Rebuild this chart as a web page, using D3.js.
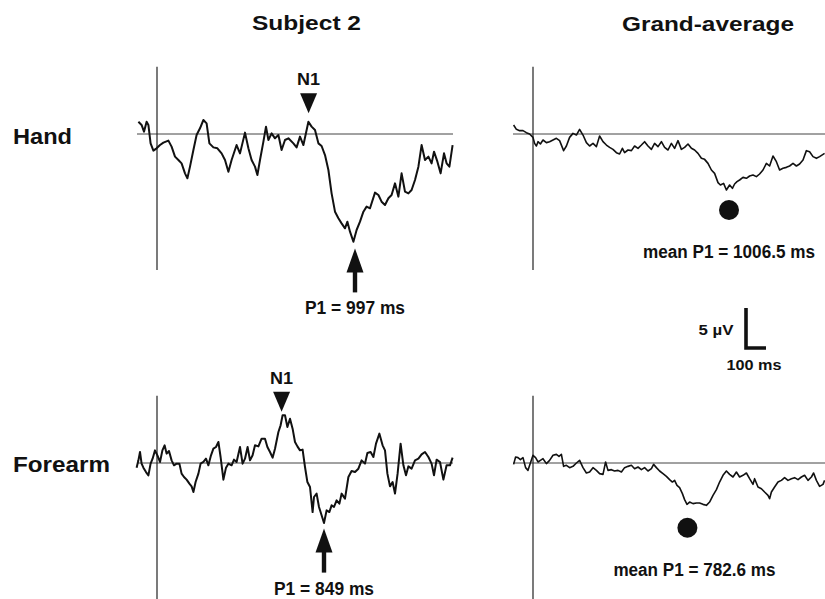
<!DOCTYPE html>
<html>
<head>
<meta charset="utf-8">
<script src="https://cdn.jsdelivr.net/npm/d3@7"></script>
<style>
  body { margin: 0; background: #fff; }
  svg text { font-family: "Liberation Sans", Arial, sans-serif; font-weight: bold; fill: #111; }
</style>
</head>
<body>
<div id="chart"></div>
<script>
// ERP traces, time in ms (0 = vertical line), amplitude in microvolts (negative up)
var handSubjT = [-93,-77,-65,-52,-43,-32,-18,-2,15,32,57,73,90,107,123,140,152,165,182,198,215,232,248,262,282,302,323,340,357,373,398,415,440,457,473,490,502,515,532,545,557,573,590,607,623,640,657,682,698,715,732,757,773,790,807,823,840,857,873,890,907,923,940,952,965,982,998,1015,1032,1048,1065,1090,1107,1123,1140,1157,1173,1190,1207,1223,1240,1257,1273,1290,1307,1323,1340,1357,1373,1385,1402,1418,1435,1448,1462,1478];
var handSubjV = [-1.54,-1.13,-0.29,-1.54,-1.13,1.17,2.08,1.79,1.38,1.08,0.83,1.58,2.83,3.25,3.67,4.92,5.54,4.08,2.0,0.13,-0.71,-1.75,-1.33,1.17,1.67,1.79,2.42,3.25,4.71,3.25,1.38,2.42,-0.17,1.79,3.25,4.08,5.13,3.25,0.96,-0.92,0.75,-0.08,0.54,0.13,2.0,0.75,0.54,1.17,1.67,0.33,1.38,-1.54,-0.92,-0.5,1.17,1.5,2.63,4.5,7.42,9.71,10.54,11.17,11.79,10.96,12.21,13.46,12.0,10.96,9.71,9.08,9.29,7.33,7.63,8.46,8.88,8.04,7.63,6.17,7.83,4.92,7.21,7.42,7.0,5.75,4.08,1.38,3.25,2.83,3.67,2.21,3.46,4.92,2.42,3.67,4.08,1.38];

var handAvgT = [-97,-83,-67,-50,-33,-17,0,8,17,25,37,50,67,83,100,117,133,153,167,183,200,217,233,250,267,283,300,317,333,350,367,383,400,417,433,447,458,475,492,508,525,542,558,575,592,608,625,642,658,675,692,708,725,742,758,775,792,808,825,842,858,875,892,908,925,937,953,967,983,997,1008,1020,1033,1050,1067,1083,1100,1117,1133,1150,1167,1183,1200,1217,1233,1250,1267,1283,1300,1317,1333,1350,1367,1383,1400,1417,1433,1458];
var handAvgV = [-1.13,-0.58,-0.42,-0.42,-0.17,0,0.42,1.17,1.5,0.96,1.25,0.75,1.08,0.96,0.75,0.54,0.83,2.08,1.5,0.42,-0.08,0.13,-0.58,0.13,1.08,1.5,1.17,1.58,0.25,0.96,1.38,1.67,1.92,2.33,2.5,1.79,2.33,2.0,2.08,1.5,1.79,1.38,0.96,1.5,1.92,1.17,1.58,0.96,1.67,2.0,1.17,1.79,0.83,1.92,1.67,1.25,1.79,2.0,2.42,3.04,3.17,3.67,4.5,4.92,6.08,6.38,6.17,7.0,6.38,6.79,6.25,5.96,5.75,5.42,5.54,5.25,5.13,5.33,5.0,4.5,3.67,4.0,2.75,3.46,4.5,4.29,4.17,4.0,3.67,4.0,3.75,3.25,2.08,2.21,2.83,3.04,2.83,2.42];

var armSubjT = [-102,-93,-85,-77,-68,-55,-43,-32,-22,-10,2,15,27,38,48,60,73,85,98,112,123,135,148,162,173,182,193,207,218,232,245,257,270,282,295,307,318,332,345,357,373,385,398,415,428,440,453,465,478,490,507,523,540,552,565,578,590,607,618,628,640,652,665,678,690,702,715,728,740,752,765,778,785,798,810,823,835,848,862,873,885,898,912,923,940,957,973,990,1007,1023,1040,1052,1068,1082,1095,1112,1128,1140,1152,1165,1178,1190,1203,1218,1232,1245,1257,1273,1290,1307,1323,1340,1357,1373,1385,1398,1415,1432,1448,1465,1478];
var armSubjV = [0.58,-0.33,-1.38,0.08,0.58,1.13,1.54,0.08,-0.54,-1.58,-0.96,-0.13,-1.58,-2.21,-1.17,-1.5,-0.33,0.29,0.08,0.08,1.33,1.75,2.08,2.58,2.92,3.63,2.38,1.33,0.08,-0.13,-0.54,0.29,-0.96,-1.79,-2.0,-2.63,-0.75,2.08,0.58,0.08,0.29,-0.42,-0.13,-2.0,0.08,-0.54,-2.0,-0.33,-0.96,-2.21,-2.08,-3.04,-3.04,-2.0,-1.38,-0.67,-1.79,-3.88,-4.71,-5.96,-5.96,-4.5,-5.54,-4.29,-2.63,-2.08,-1.58,-1.67,0.5,2.38,3.0,6.13,4.25,3.83,5.5,6.54,7.5,5.92,6.13,5.29,5.5,4.67,5.08,3.83,4.46,1.75,1.0,1.13,0.71,-0.33,0.08,-1.25,-1.38,-0.75,-2.42,-3.67,-2.21,-1.58,1.33,2.92,2.38,3.83,1.33,-2.42,0.29,1.54,0.42,0.71,-0.33,-0.54,-1.08,-1.38,-0.75,0.08,1.54,-0.42,-0.13,2.08,0.29,0.29,-0.67];

var armAvgT = [-97,-87,-75,-63,-50,-37,-25,-13,0,13,25,37,50,67,83,100,117,130,142,153,167,183,200,217,233,250,267,283,300,317,333,350,363,375,392,408,425,442,458,475,492,508,525,542,558,575,592,603,617,633,650,667,683,697,708,720,733,747,758,770,783,800,817,833,850,867,883,900,917,933,950,967,983,1000,1017,1033,1050,1067,1083,1100,1108,1125,1142,1158,1175,1183,1192,1208,1225,1242,1258,1275,1292,1308,1325,1342,1358,1375,1392,1403,1417,1433,1450,1458];
var armAvgV = [0.17,-0.75,-0.67,-0.42,-0.67,0.58,0.92,0.0,-0.96,-0.67,-0.13,-0.33,-0.54,0.08,-0.33,-0.96,-1.08,-0.83,-1.08,0.42,0.29,0.58,0.42,0.0,-0.33,0.58,1.25,1.13,0.58,0.92,1.33,1.42,-0.13,0.92,0.83,1.0,0.92,1.13,0.58,0.42,0.29,0.71,0.5,0.83,0.58,1.0,0.71,0.17,0.58,1.0,1.33,1.67,2.08,2.38,2.17,2.79,3.08,3.83,4.58,5.17,4.88,5.08,5.0,5.0,5.17,5.29,4.88,4.04,3.33,2.38,1.54,1.0,1.42,1.75,1.13,1.75,1.54,1.25,1.96,2.67,1.96,3.0,3.21,3.63,4.04,4.46,3.63,3.0,2.38,2.17,1.83,2.17,1.96,1.83,2.08,1.75,1.54,2.17,1.75,1.25,2.17,2.92,2.67,2.17];

// row / column labels
var columnTitles = ["Subject 2", "Grand-average"];
var rowTitles = ["Hand", "Forearm"];

// markers: N1 peaks, individual P1 peaks, mean P1 positions
var n1Times = [758, 623];
var n1Values = [-2.6, -6.4];
var p1Times = [990, 835];
var p1Values = [14.3, 8.2];
var p1Labels = ["P1 = 997 ms", "P1 = 849 ms"];
var meanP1Times = [980, 772];
var meanP1Values = [9.5, 8.1];
var meanP1Labels = ["mean P1 = 1006.5 ms", "mean P1 = 782.6 ms"];

var width = 825, height = 599;

var svg = d3.select("#chart").append("svg")
  .attr("width", width)
  .attr("height", height);

// 0.2 px per ms, 8 px per microvolt
var x = d3.scaleLinear().domain([-100, 1480]).range([-20, 296]);
var y = d3.scaleLinear().domain([-10, 20]).range([-80, 160]);

var origins = [[157, 134], [533, 134], [157, 463], [533, 463]];
var traces = [
  {t: handSubjT, v: handSubjV, w: 2.0},
  {t: handAvgT, v: handAvgV, w: 1.6},
  {t: armSubjT, v: armSubjV, w: 2.0},
  {t: armAvgT, v: armAvgV, w: 1.6}
];

var line = d3.line()
  .x(function(d){ return x(d[0]); })
  .y(function(d){ return y(d[1]); });

var panels = svg.selectAll("g.panel")
  .data(traces)
  .enter().append("g")
  .attr("class", "panel")
  .attr("transform", function(d, i){ return "translate(" + origins[i][0] + "," + origins[i][1] + ")"; });

// baseline
panels.append("line")
  .attr("x1", x(-100)).attr("x2", x(1480))
  .attr("y1", y(0)).attr("y2", y(0))
  .attr("stroke", "#444").attr("stroke-width", 1);

// stimulus onset line
panels.append("line")
  .attr("x1", x(0)).attr("x2", x(0))
  .attr("y1", y(-8.4)).attr("y2", y(17))
  .attr("stroke", "#222").attr("stroke-width", 1.2);

panels.append("path")
  .attr("d", function(d){ return line(d3.zip(d.t, d.v)); })
  .attr("fill", "none")
  .attr("stroke", "#111")
  .attr("stroke-width", function(d){ return d.w; })
  .attr("stroke-linejoin", "round");

// subject panels: N1 triangles and P1 arrows
[0, 1].forEach(function(r){
  var g = svg.append("g").attr("transform", "translate(" + origins[r * 2][0] + "," + origins[r * 2][1] + ")");
  var nx = x(n1Times[r]), ny = y(n1Values[r]);
  g.append("path")
    .attr("d", "M" + nx + "," + ny + "L" + (nx - 8.5) + "," + (ny - 20) + "L" + (nx + 8.5) + "," + (ny - 20) + "Z")
    .attr("fill", "#111");
  g.append("text")
    .attr("x", nx - 11.5).attr("y", ny - 28)
    .attr("font-size", 17)
    .attr("textLength", 23).attr("lengthAdjust", "spacingAndGlyphs")
    .text("N1");

  var px = x(p1Times[r]), py = y(p1Values[r]);
  g.append("path")
    .attr("d", "M" + px + "," + py + "L" + (px - 8.5) + "," + (py + 24) + "L" + (px + 8.5) + "," + (py + 24) + "Z")
    .attr("fill", "#111");
  g.append("rect")
    .attr("x", px - 2.2).attr("y", py + 22)
    .attr("width", 4.4).attr("height", 22)
    .attr("fill", "#111");
  g.append("text")
    .attr("x", px - 50).attr("y", py + 66)
    .attr("font-size", 17.5)
    .attr("textLength", 100).attr("lengthAdjust", "spacingAndGlyphs")
    .text(p1Labels[r]);
});

// grand-average panels: mean P1 dots
[0, 1].forEach(function(r){
  var g = svg.append("g").attr("transform", "translate(" + origins[r * 2 + 1][0] + "," + origins[r * 2 + 1][1] + ")");
  var mx = x(meanP1Times[r]), my = y(meanP1Values[r]);
  g.append("circle")
    .attr("cx", mx).attr("cy", my).attr("r", 10)
    .attr("fill", "#111");
  var lw = r === 0 ? 172 : 162;
  var lx = r === 0 ? -86 : -74;
  g.append("text")
    .attr("x", mx + lx).attr("y", my + 48)
    .attr("font-size", 18)
    .attr("textLength", lw).attr("lengthAdjust", "spacingAndGlyphs")
    .text(meanP1Labels[r]);
});

// titles
svg.append("text").attr("x", 252).attr("y", 30).attr("font-size", 21)
  .attr("textLength", 109).attr("lengthAdjust", "spacingAndGlyphs").text(columnTitles[0]);
svg.append("text").attr("x", 622).attr("y", 31).attr("font-size", 21)
  .attr("textLength", 172).attr("lengthAdjust", "spacingAndGlyphs").text(columnTitles[1]);
svg.append("text").attr("x", 13).attr("y", 144).attr("font-size", 22)
  .attr("textLength", 59).attr("lengthAdjust", "spacingAndGlyphs").text(rowTitles[0]);
svg.append("text").attr("x", 13).attr("y", 472).attr("font-size", 22)
  .attr("textLength", 97).attr("lengthAdjust", "spacingAndGlyphs").text(rowTitles[1]);

// scale bar: 5 µV, 100 ms
var sb = svg.append("g").attr("transform", "translate(746,348)");
sb.append("path")
  .attr("d", "M" + x(0) + "," + (y(-5) - y(0)) + "V0H" + x(100))
  .attr("transform", "translate(" + (-x(0)) + ",0)")
  .attr("fill", "none").attr("stroke", "#111").attr("stroke-width", 3.6);
sb.append("text").attr("x", -47.5).attr("y", -13).attr("font-size", 15)
  .attr("textLength", 35).attr("lengthAdjust", "spacingAndGlyphs").text("5 µV");
sb.append("text").attr("x", -19.5).attr("y", 22).attr("font-size", 15)
  .attr("textLength", 55).attr("lengthAdjust", "spacingAndGlyphs").text("100 ms");
</script>
</body>
</html>
